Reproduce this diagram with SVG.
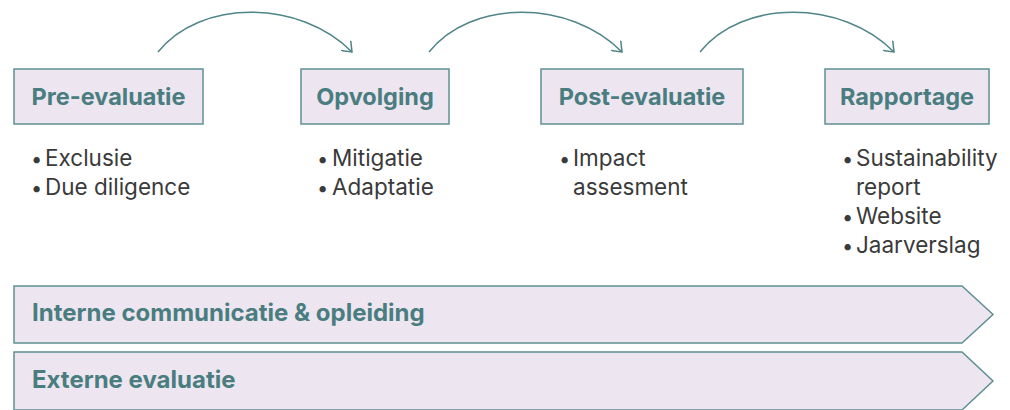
<svg xmlns="http://www.w3.org/2000/svg" width="1010" height="410" viewBox="0 0 1010 410">
<defs>
<style>
.box{fill:#ede6f1;stroke:#5e9092;stroke-width:1.5}
.lbl{font-family:Inter,"Liberation Sans",sans-serif;font-weight:700;font-size:23.5px;fill:#4a7d7f;text-anchor:middle}
.blbl{font-family:Inter,"Liberation Sans",sans-serif;font-weight:700;font-size:24px;fill:#4a7d7f}
.bul{font-family:Inter,"Liberation Sans",sans-serif;font-size:22.5px;fill:#3a3a3a}
.dot{font-size:20px}
.arc{fill:none;stroke:#4f8587;stroke-width:1.5}
</style>
<marker id="ah" viewBox="0 0 14 14" refX="13" refY="7" markerWidth="14" markerHeight="14" markerUnits="userSpaceOnUse" orient="auto">
<path d="M4,0 L13,7 L4,14" fill="none" stroke="#4f8587" stroke-width="1.5"/>
</marker>
</defs>
<g id="connectors">
<path class="arc" d="M158,52 C200,-1 300,-1 352,52" marker-end="url(#ah)"/>
<path class="arc" d="M429,52 C471,-1 570,-1 622,52" marker-end="url(#ah)"/>
<path class="arc" d="M700,52 C742,-1 842,-1 894,52" marker-end="url(#ah)"/>
</g>
<g id="pre-evaluatie">
<rect class="box" x="14" y="69" width="189" height="55"/>
<text class="lbl" x="108.5" y="105">Pre-evaluatie</text>
<text class="bul" y="166"><tspan class="dot" x="31">•</tspan><tspan x="45">Exclusie</tspan></text>
<text class="bul" y="195"><tspan class="dot" x="31">•</tspan><tspan x="45">Due diligence</tspan></text>
</g>
<g id="opvolging">
<rect class="box" x="301" y="69" width="148" height="55"/>
<text class="lbl" x="375" y="105">Opvolging</text>
<text class="bul" y="166"><tspan class="dot" x="317">•</tspan><tspan x="332">Mitigatie</tspan></text>
<text class="bul" y="195"><tspan class="dot" x="317">•</tspan><tspan x="332">Adaptatie</tspan></text>
</g>
<g id="post-evaluatie">
<rect class="box" x="541" y="69" width="202" height="55"/>
<text class="lbl" x="642" y="105">Post-evaluatie</text>
<text class="bul" y="166"><tspan class="dot" x="559">•</tspan><tspan x="573">Impact</tspan></text>
<text class="bul" x="573" y="195">assesment</text>
</g>
<g id="rapportage">
<rect class="box" x="825" y="69" width="164" height="55"/>
<text class="lbl" x="907" y="105">Rapportage</text>
<text class="bul" y="166"><tspan class="dot" x="842">•</tspan><tspan x="856">Sustainability</tspan></text>
<text class="bul" x="856" y="195">report</text>
<text class="bul" y="224"><tspan class="dot" x="842">•</tspan><tspan x="856">Website</tspan></text>
<text class="bul" y="253"><tspan class="dot" x="842">•</tspan><tspan x="856">Jaarverslag</tspan></text>
</g>
<g id="interne">
<path class="box" d="M14,286 H962 L993,314.5 L962,343 H14 Z"/>
<text class="blbl" x="32" y="321">Interne communicatie &amp; opleiding</text>
</g>
<g id="externe">
<path class="box" d="M14,352 H962 L993,381 L962,410 H14 Z"/>
<text class="blbl" x="32" y="388">Externe evaluatie</text>
</g>
</svg>
